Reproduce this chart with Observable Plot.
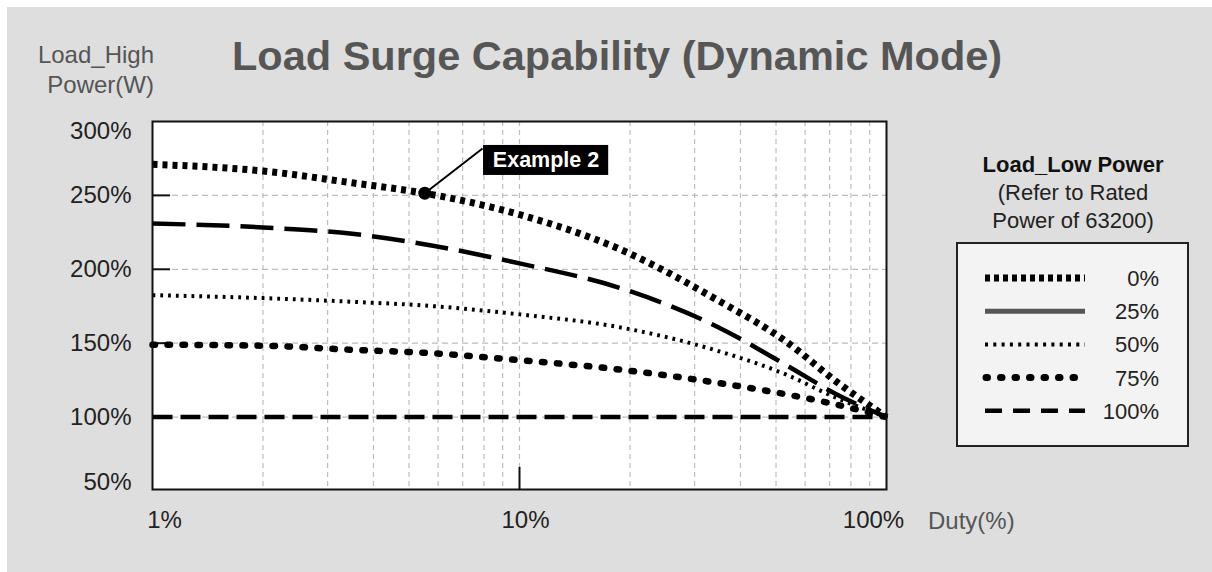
<!DOCTYPE html>
<html><head><meta charset="utf-8">
<script src="https://cdn.jsdelivr.net/npm/d3@7"></script>
<script src="https://cdn.jsdelivr.net/npm/@observablehq/plot@0.6"></script>
<style>
html,body{margin:0;padding:0;background:#fff;}
#wrap{position:relative;width:1212px;height:572px;overflow:hidden;font-family:"Liberation Sans",Arial,sans-serif;}
#bg{position:absolute;left:7px;top:7px;right:0;bottom:0;background:#dedede;}
#chart{position:absolute;left:0;top:0;}
#overlay{position:absolute;left:0;top:0;}
</style></head>
<body><div id="wrap"><div id="bg"></div><div id="chart"></div><svg id="overlay" width="1212" height="572"></svg></div>
<script>
// ---- data ----
const duty    = [1, 2, 3.5, 5.5, 10, 19, 35, 53, 73, 100];
const load0   = [271, 266.5, 258.5, 251.5, 237, 213, 178.5, 151.5, 124, 100];
const load25  = [231, 228.3, 224, 217, 204, 187, 160.5, 135.5, 115.5, 100];
const load50  = [182.5, 180.5, 178, 175.5, 169.5, 160.5, 144.5, 129, 113, 100];
const load75  = [149, 148.3, 145.5, 143.5, 138.5, 132, 123, 115.5, 108.5, 100];
const load100 = [100, 100, 100, 100, 100, 100, 100, 100, 100, 100];
const seriesNames = ["0%", "25%", "50%", "75%", "100%"];
const yTickValues = [300, 250, 200, 150, 100, 50];
const xTickValues = [1, 10, 100];
const xGridValues = [2, 3, 4, 5, 6, 7, 8, 9, 10, 20, 30, 40, 50, 60, 70, 80, 90];
const yGridValues = [250, 200, 150, 100];
const titleText = "Load Surge Capability (Dynamic Mode)";
const yLabelLines = ["Load_High", "Power(W)"];
const xLabelText = "Duty(%)";
const legendTitleLines = ["Load_Low Power", "(Refer to Rated", "Power of 63200)"];
const exampleText = "Example 2";
const examplePoint = [{duty: 5.52, load: 251.5}];
const exampleAnchor = [{duty: 7.93, load: 281.7}];
const exampleBox = [{x1: 7.98, x2: 17.5, y1: 263.5, y2: 283.8, cx: 11.81, cy: 273.6}];

const loads = [load0, load25, load50, load75, load100];
const styles = [
  {strokeWidth: 7,   strokeDasharray: "5,5",     strokeLinecap: "butt"},
  {strokeWidth: 4.5, strokeDasharray: "33,11",   strokeLinecap: "butt"},
  {strokeWidth: 4,   strokeDasharray: "2.8,5",   strokeLinecap: "butt"},
  {strokeWidth: 6.5, strokeDasharray: "2.5,12.5",strokeLinecap: "round"},
  {strokeWidth: 4.5, strokeDasharray: "20,8",    strokeLinecap: "butt"}
];
const rows = seriesNames.map((s, i) => duty.map((d, j) => ({series: s, duty: d, load: loads[i][j]})));

const lineMarks = rows.map((r, i) => Plot.line(r, {x: "duty", y: "load", curve: "monotone-x", stroke: "#000", ...styles[i]}));

const chart = Plot.plot({
  width: 1212, height: 572,
  marginLeft: 152, marginRight: 326, marginTop: 121, marginBottom: 83,
  style: {background: "transparent", fontFamily: "Liberation Sans, Arial, sans-serif"},
  x: {type: "log", domain: [1, 100], axis: null},
  y: {domain: [51, 300], axis: null},
  marks: [
    Plot.frame({fill: "white", stroke: "none"}),
    Plot.ruleX(xGridValues, {stroke: "#bdbdbd", strokeWidth: 1.2, strokeDasharray: "5,4"}),
    Plot.ruleY(yGridValues, {stroke: "#bdbdbd", strokeWidth: 1.2, strokeDasharray: "6,4"}),
    Plot.ruleY(yGridValues, {x1: 1, x2: 1.12, stroke: "#111", strokeWidth: 2}),
    Plot.ruleX([10], {y1: 51, y2: 66, stroke: "#111", strokeWidth: 2}),
    ...lineMarks.slice().reverse(),
    Plot.link(examplePoint, {x1: "duty", y1: "load", x2: () => exampleAnchor[0].duty, y2: () => exampleAnchor[0].load, stroke: "#000", strokeWidth: 2}),
    Plot.dot(examplePoint, {x: "duty", y: "load", r: 6.5, fill: "#000"}),
    Plot.rect(exampleBox, {x1: "x1", x2: "x2", y1: "y1", y2: "y2", fill: "#000"}),
    Plot.text(exampleBox, {x: "cx", y: "cy", text: () => exampleText, fill: "#fff", fontSize: 21.5, fontWeight: "bold"}),
    Plot.frame({stroke: "#111", strokeWidth: 2}),
    Plot.text(yTickValues.filter(v => v !== 300 && v !== 50), {x: 1, y: d => d, text: d => d + "%", textAnchor: "end", dx: -21, fontSize: 24, fill: "#222"}),
    Plot.text([300], {x: 1, y: d => d, text: d => d + "%", textAnchor: "end", dx: -21, dy: 10, fontSize: 24, fill: "#222"}),
    Plot.text([50], {x: 1, y: d => d, text: d => d + "%", textAnchor: "end", dx: -21, dy: -9, fontSize: 24, fill: "#222"}),
    Plot.text([xTickValues[0]], {x: d => d, frameAnchor: "bottom", lineAnchor: "middle", text: d => d + "%", dx: 12, dy: 31, fontSize: 24, fill: "#222"}),
    Plot.text([xTickValues[1]], {x: d => d, frameAnchor: "bottom", lineAnchor: "middle", text: d => d + "%", dx: 6, dy: 31, fontSize: 24, fill: "#222"}),
    Plot.text([xTickValues[2]], {x: d => d, frameAnchor: "bottom", lineAnchor: "middle", text: d => d + "%", dx: -13, dy: 31, fontSize: 24, fill: "#222"})
  ]
});
document.getElementById("chart").appendChild(chart);

// ---- overlay texts & legend ----
const ov = d3.select("#overlay").style("font-family", "Liberation Sans, Arial, sans-serif");
ov.append("text").attr("x", 232).attr("y", 70).attr("font-size", 41.5).attr("font-weight", "bold").attr("fill", "#565656").text(titleText);
yLabelLines.forEach((t, i) => ov.append("text").attr("x", 154).attr("y", 63 + i * 30).attr("text-anchor", "end").attr("font-size", 24).attr("fill", "#555").text(t));
ov.append("text").attr("x", 928).attr("y", 529).attr("font-size", 24).attr("fill", "#555").text(xLabelText);
legendTitleLines.forEach((t, i) => ov.append("text").attr("x", 1073).attr("y", 172 + i * 28).attr("text-anchor", "middle")
  .attr("font-size", 22).attr("font-weight", i === 0 ? "bold" : "normal").attr("fill", i === 0 ? "#111" : "#222").text(t));
ov.append("rect").attr("x", 957).attr("y", 243).attr("width", 231).attr("height", 203).attr("fill", "#f3f3f3").attr("stroke", "#222").attr("stroke-width", 2);
const legendStyles = [
  {w: 7, dash: "5,4", cap: "butt", color: "#000"},
  {w: 5, dash: null, cap: "butt", color: "#555"},
  {w: 4, dash: "3,5.3", cap: "butt", color: "#000"},
  {w: 7, dash: "1.5,13", cap: "round", color: "#000"},
  {w: 4.5, dash: "17,11", cap: "butt", color: "#000"}
];
seriesNames.forEach((s, i) => {
  const y = 278 + i * 33.2;
  const st = legendStyles[i];
  const ln = ov.append("line").attr("x1", i === 3 ? 986 : 985).attr("x2", 1085).attr("y1", y).attr("y2", y)
    .attr("stroke", st.color).attr("stroke-width", st.w).attr("stroke-linecap", st.cap);
  if (st.dash) ln.attr("stroke-dasharray", st.dash);
  ov.append("text").attr("x", 1159).attr("y", y + 8).attr("text-anchor", "end").attr("font-size", 22).attr("fill", "#222").text(s);
});
</script>
</body></html>
